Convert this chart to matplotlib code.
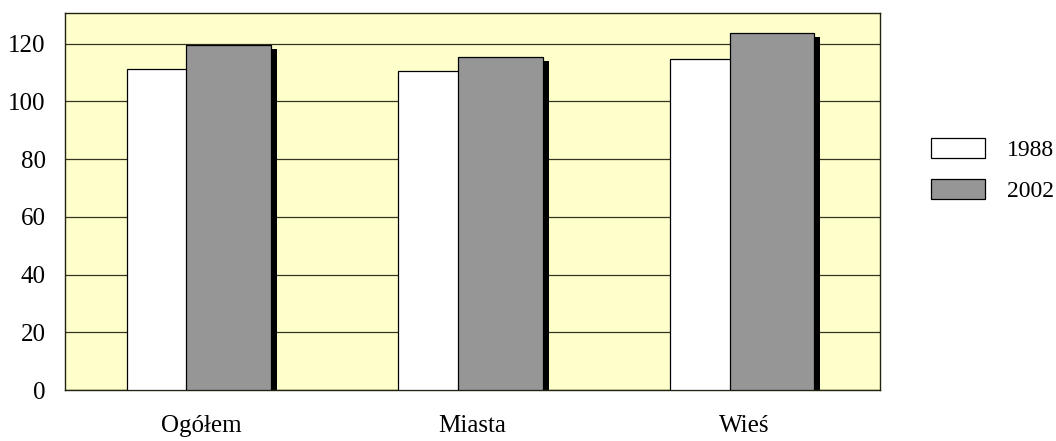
import numpy as np
import matplotlib.pyplot as plt

plt.rcParams['font.family'] = ['Liberation Serif', 'DejaVu Serif']

kategorie = ['Ogółem', 'Miasta', 'Wieś']
lata = ['1988', '2002']
v1988 = [111.2, 110.5, 114.7]
v2002 = [119.5, 115.5, 123.8]

x = np.arange(len(kategorie))
w = 0.311
sx = 0.022   # przesuniecie cienia
sy = 1.4

fig = plt.figure(figsize=(10.56, 4.41), dpi=100)
ax = fig.add_axes([0.0616, 0.1156, 0.7717, 0.8549])
ax.set_facecolor('#FFFFCC')

# cienie
ax.bar(x - 0.273 + sx, np.array(v1988) - sy, w, align='edge', color='black', zorder=2)
ax.bar(x - 0.053 + sx, np.array(v2002) - sy, w, align='edge', color='black', zorder=2)

ax.bar(x - 0.273, v1988, w, align='edge', color='white', edgecolor='black',
       linewidth=0.9, label=lata[0], zorder=3)
ax.bar(x - 0.053, v2002, w, align='edge', color='#969696', edgecolor='black',
       linewidth=0.9, label=lata[1], zorder=4)

ax.set_xlim(-0.5, 2.5)
ax.set_ylim(0, 130.6)
ax.set_yticks(range(0, 121, 20))
ax.yaxis.grid(True, color='#333322', linewidth=0.9)
ax.set_axisbelow(True)
ax.set_xticks(x)
ax.set_xticklabels(kategorie)
ax.tick_params(axis='both', length=0, labelsize=18)
ax.tick_params(axis='y', pad=14)
ax.tick_params(axis='x', pad=18)
for s in ax.spines.values():
    s.set_color('#222211')
    s.set_linewidth(1.0)

fig.legend(loc='upper left', bbox_to_anchor=(931 / 1056, 1 - 138 / 441), frameon=False,
           fontsize=17, handlelength=2.3, handleheight=0.95, labelspacing=0.75,
           handletextpad=0.93, borderpad=0, borderaxespad=0)

plt.savefig('out.png', dpi=100)
